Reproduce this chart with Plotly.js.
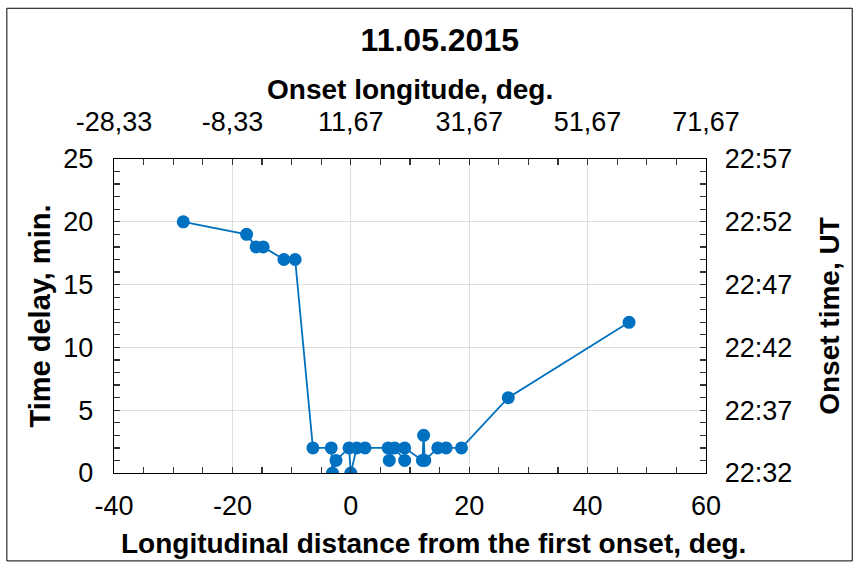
<!DOCTYPE html>
<html>
<head>
<meta charset="utf-8">
<script src="https://cdn.plot.ly/plotly-3.0.1.min.js"></script>
<style>html,body{margin:0;padding:0;background:#fff;}#chart{width:854px;height:567px;}</style>
</head>
<body>
<div id="chart"></div>
<script>
// Longitudinal distance from the first onset, deg.
const distance = [-28.3, -17.6, -16.0, -14.8, -11.3, -9.4, -6.4, -3.3, -3.1, -2.5, -0.3, 0.0, 1.0, 2.4, 6.3, 6.5, 7.4, 9.1, 9.1, 12.1, 12.3, 12.5, 14.7, 16.1, 18.7, 26.6, 47.0];
// Time delay, min.
const delay = [20, 19, 18, 18, 17, 17, 2, 2, 0, 1, 2, 0, 2, 2, 2, 1, 2, 1, 2, 1, 3, 1, 2, 2, 2, 6, 12];

const bottomTicks = [-40, -20, 0, 20, 40, 60];
const bottomTickText = ["-40", "-20", "0", "20", "40", "60"];
const topTickVals = [-28.33, -8.33, 11.67, 31.67, 51.67, 71.67];
const topTickText = ["-28,33", "-8,33", "11,67", "31,67", "51,67", "71,67"];
const leftTicks = [0, 5, 10, 15, 20, 25];
const rightTickText = ["22:32", "22:37", "22:42", "22:47", "22:52", "22:57"];

const FONT = "Liberation Sans, Arial, sans-serif";
const BLUE = "#0070C0";

const traces = [
  {
    x: distance, y: delay, type: "scatter", mode: "lines+markers",
    line: {color: BLUE, width: 1.8},
    marker: {color: BLUE, size: 13},
    xaxis: "x", yaxis: "y", showlegend: false, hoverinfo: "skip"
  },
  {
    x: [], y: [], type: "scatter", mode: "markers",
    xaxis: "x2", yaxis: "y2", showlegend: false, hoverinfo: "skip"
  }
];

const common = {
  showline: true, linecolor: "#000", linewidth: 1.3,
  ticks: "inside", ticklen: 6, tickcolor: "#333", tickwidth: 1.3,
  zeroline: false, automargin: false,
  tickfont: {family: FONT, size: 27, color: "#000"}
};

const layout = {
  width: 854, height: 567,
  margin: {l: 114, r: 148, t: 159, b: 94, pad: 0},
  paper_bgcolor: "#fff", plot_bgcolor: "#fff",
  font: {family: FONT, color: "#000"},
  title: {
    text: "<b>11.05.2015</b>",
    font: {family: FONT, size: 32, color: "#000"},
    x: 0.515, xanchor: "center", y: 0.93, yanchor: "middle"
  },
  xaxis: Object.assign({}, common, {
    range: [-40, 60], autorange: false,
    tickvals: bottomTicks, ticktext: bottomTickText,
    showgrid: true, gridcolor: "#dedede", gridwidth: 1,
    minor: {dtick: 5, tick0: 0, ticks: "inside", ticklen: 6, tickcolor: "#333", showgrid: false},
    ticklabelstandoff: 8
  }),
  xaxis2: Object.assign({}, common, {
    overlaying: "x", side: "top",
    range: [-28.33, 71.67], autorange: false,
    tickvals: topTickVals, ticktext: topTickText,
    showgrid: false,
    minor: {dtick: 5, tick0: -28.33, ticks: "inside", ticklen: 6, tickcolor: "#333", showgrid: false},
    ticklabelstandoff: 16
  }),
  yaxis: Object.assign({}, common, {
    range: [0, 25], autorange: false,
    tickvals: leftTicks,
    showgrid: true, gridcolor: "#dedede", gridwidth: 1,
    minor: {dtick: 1, tick0: 0, ticks: "inside", ticklen: 6, tickcolor: "#333", showgrid: false},
    ticklabelstandoff: 14,
    title: {text: "<b>Time delay, min.</b>",
            font: {family: FONT, size: 29, color: "#000"}, standoff: 4}
  }),
  yaxis2: Object.assign({}, common, {
    overlaying: "y", side: "right",
    range: [0, 25], autorange: false,
    tickvals: leftTicks, ticktext: rightTickText,
    showgrid: false,
    minor: {dtick: 1, tick0: 0, ticks: "inside", ticklen: 6, tickcolor: "#333", showgrid: false},
    ticklabelstandoff: 12,
    title: {text: "<b>Onset time, UT</b>",
            font: {family: FONT, size: 28, color: "#000"}, standoff: 28}
  }),
  annotations: [
    {text: "<b>Longitudinal distance from the first onset, deg.</b>",
     xref: "paper", yref: "paper", x: 0.5405, y: -0.224,
     xanchor: "center", yanchor: "middle", showarrow: false,
     font: {family: FONT, size: 28, color: "#000"}},
    {text: "<b>Onset longitude, deg.</b>",
     xref: "paper", yref: "paper", x: 0.5, y: 1.221,
     xanchor: "center", yanchor: "middle", showarrow: false,
     font: {family: FONT, size: 28, color: "#000"}}
  ],
  shapes: [
    {type: "rect", xref: "paper", yref: "paper",
     x0: -0.181, x1: 1.247, y0: -0.28, y1: 1.48,
     line: {color: "#000", width: 1}, fillcolor: "rgba(0,0,0,0)", layer: "below"}
  ]
};

Plotly.newPlot("chart", traces, layout, {displayModeBar: false, staticPlot: true});
</script>
</body>
</html>
